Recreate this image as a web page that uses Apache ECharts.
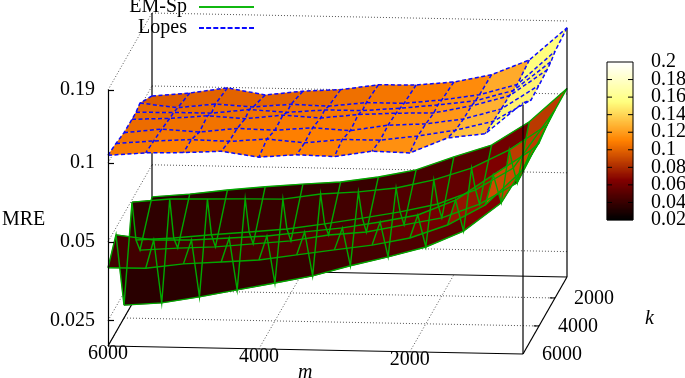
<!DOCTYPE html>
<html><head><meta charset="utf-8">
<style>html,body{margin:0;padding:0;background:#fff}#c{width:685px;height:378px}</style>
<script src="https://cdn.jsdelivr.net/npm/echarts@6/dist/echarts.min.js"></script>
</head><body><div id="c"></div>
<script>
// ---- data ----
const mValues = [6000,5500,5000,4500,4000,3500,3000,2500,2000,1500,1000,500];
const kValues = [500,2000,2500,3000,4000,5000,6000];

const lopesK500  = [.0916,.0946,.0996,.0942,.098,.100,.105,.1055,.109,.117,.134,.179];
const lopesK2000 = [.1035,.100,.104,.102,.105,.104,.108,.108,.112,.118,.130,.175];
const lopesK2500 = [.1015,.102,.102,.106,.104,.107,.107,.110,.114,.119,.131,.170];
const lopesK3000 = [.1015,.103,.106,.104,.108,.106,.110,.112,.113,.121,.133,.168];
const lopesK4000 = [.102,.106,.104,.108,.107,.110,.108,.114,.116,.122,.134,.166];
const lopesK5000 = [.105,.108,.110,.109,.112,.109,.113,.113,.118,.125,.136,.165];
const lopesK6000 = [.107,.110,.111,.113,.108,.111,.110,.116,.115,.132,.138,.182];

const emK500  = [.0377,.0389,.0406,.042,.0433,.0444,.0467,.05,.0564,.063,.0778,.105];
const emK2000 = [.0284,.0291,.0296,.0306,.0316,.0335,.0346,.0371,.0397,.0451,.0547,.1046];
const emK2500 = [.033,.0338,.035,.0361,.0373,.0393,.0416,.0442,.0477,.0543,.0663,.106];
const emK3000 = [.049,.0507,.051,.0514,.0516,.0543,.0557,.058,.0627,.07,.0827,.1036];
const emK4000 = [.0224,.023,.0244,.0261,.0279,.0299,.0329,.0358,.0393,.0455,.0587,.10];
const emK5000 = [.047,.0452,.0455,.0466,.0477,.0498,.0519,.055,.0589,.0676,.0849,.106];
const emK6000 = [.0398,.0399,.0417,.0427,.0437,.046,.0484,.0508,.0544,.0614,.0737,.101];

const zTicks = [0.19,0.1,0.05,0.025];
const mTicks = [6000,4000,2000];
const kTicks = [2000,4000,6000];
const colorbarLabelsA = [0.02,0.06,0.1,0.14,0.18];
const colorbarLabelsB = [0.04,0.08,0.12,0.16,0.2];
const colorbarTicks = [0.04,0.06,0.08,0.1,0.12,0.14,0.16,0.18];

// ---- layout ----
const FONT = 'Liberation Serif';
const M_MIN = 500, M_MAX = 6000, K_MIN = 500, K_MAX = 6000, Z_MIN = 0.02, Z_MAX = 0.19;
const DEPTH_X = 44, DEPTH_Y = 77, TILT_Y = 8;
const GREEN = '#00a800', BLUE = '#0a0aff';
const BAR_MIN = 0.02, BAR_MAX = 0.2, BAR_STRIPS = 158;

const lopesRows = [lopesK500,lopesK2000,lopesK2500,lopesK3000,lopesK4000,lopesK5000,lopesK6000];
const emRows = [emK500,emK2000,emK2500,emK3000,emK4000,emK5000,emK6000];

function project(api, m, k, z) {
  const p = api.coord([m, z]);
  const f = (K_MAX - k) / (K_MAX - K_MIN);
  const t = (M_MAX - m) / (M_MAX - M_MIN);
  return [p[0] + f * DEPTH_X, p[1] - f * DEPTH_Y + t * TILT_Y];
}

function buildQuads(rows) {
  const out = [];
  for (let r = 0; r < kValues.length - 1; r++) {
    for (let c = mValues.length - 2; c >= 0; c--) {
      const a = rows[r][c], b = rows[r][c+1], d = rows[r+1][c], e = rows[r+1][c+1];
      out.push([mValues[c], mValues[c+1], kValues[r], kValues[r+1], a, b, d, e, (a+b+d+e)/4]);
    }
  }
  return out;
}
function buildMesh(rows) {
  const out = [];
  rows.forEach((row, r) => out.push(row.map((z, c) => [mValues[c], kValues[r], z])));
  mValues.forEach((m, c) => out.push(rows.map((row, r) => [m, kValues[r], row[c]])));
  return out;
}
function fillSeries(name, rows) {
  return {
    type: 'custom', name, coordinateSystem: 'cartesian2d', xAxisIndex: 0, yAxisIndex: 0,
    silent: true, clip: false, animation: false,
    data: buildQuads(rows), encode: {x: 0, y: 8},
    renderItem(params, api) {
      const [m0,m1,k0,k1,a,b,d,e] = [0,1,2,3,4,5,6,7].map(i => api.value(i));
      const pts = [project(api,m0,k0,a),project(api,m1,k0,b),project(api,m1,k1,e),project(api,m0,k1,d)];
      const col = api.visual('color');
      return {type:'polygon', shape:{points:pts}, style:{fill:col, stroke:col, lineWidth:0.4}};
    }
  };
}
function meshSeries(name, rows, style) {
  const lines = buildMesh(rows);
  return {
    type: 'custom', name, coordinateSystem: 'cartesian2d', xAxisIndex: 0, yAxisIndex: 0,
    silent: true, clip: false, animation: false,
    itemStyle: {color: style.stroke},
    data: lines.map((_, i) => [M_MAX, Z_MAX, i]), encode: {x: 0, y: 1},
    renderItem(params, api) {
      const line = lines[api.value(2)];
      return {type:'polyline', shape:{points: line.map(p => project(api,p[0],p[1],p[2]))},
              style: Object.assign({fill:'none'}, style)};
    }
  };
}
function frameSeries(name, segs, labels) {
  const items = segs.concat(labels || []);
  return {
    type: 'custom', name, coordinateSystem: 'cartesian2d', xAxisIndex: 0, yAxisIndex: 0,
    silent: true, clip: false, animation: false,
    data: items.map((_, i) => [M_MAX, Z_MAX, i]), encode: {x: 0, y: 1},
    renderItem(params, api) {
      const it = items[api.value(2)];
      if (it.text) {
        const p = project(api, it.at[0], it.at[1], it.at[2]);
        return {type:'text', x:p[0]+it.dx, y:p[1]+it.dy,
          style:{text:it.text, fill:'#000', font:'20px "'+FONT+'"', align:it.align, verticalAlign:'middle'}};
      }
      const p0 = project(api, it[0], it[1], it[2]), p1 = project(api, it[3], it[4], it[5]);
      return {type:'line', shape:{x1:p0[0],y1:p0[1],x2:p1[0],y2:p1[1]},
        style: it[6] === 'dot' ? {stroke:'#555', lineWidth:1, lineDash:[1,2]} : {stroke:'#000', lineWidth:1.2}};
    }
  };
}
// colour ramp of the colour bar: one strip per pixel row, coloured by the visualMap
function colorbarStripSeries() {
  const strips = [];
  const step = (BAR_MAX - BAR_MIN) / BAR_STRIPS;
  for (let i = 0; i < BAR_STRIPS; i++) {
    const lo = BAR_MIN + i * step, hi = lo + step;
    strips.push([0, lo, hi, 0, 0, 0, 0, 0, (lo + hi) / 2]);
  }
  return {
    type:'custom', name:'colorbar', coordinateSystem:'cartesian2d', xAxisIndex:1, yAxisIndex:1,
    silent:true, clip:false, animation:false,
    data: strips, encode:{x:0, y:1},
    renderItem(params, api) {
      const a = api.coord([0, api.value(1)]), b = api.coord([1, api.value(2)]);
      const col = api.visual('color');
      return {type:'rect', shape:{x:a[0], y:b[1], width:b[0]-a[0], height:a[1]-b[1]},
              style:{fill:col, stroke:col, lineWidth:0.5}};
    }
  };
}
function colorbarTickSeries() {
  return {
    type:'custom', name:'colorbarTicks', coordinateSystem:'cartesian2d', xAxisIndex:1, yAxisIndex:1,
    silent:true, clip:false, animation:false, z:8,
    data: colorbarTicks.map(v => [0, v]), encode:{x:0, y:1},
    renderItem(params, api) {
      const v = api.value(1);
      const a = api.coord([0, v]), b = api.coord([1, v]);
      return {type:'group', children:[
        {type:'line', shape:{x1:a[0], y1:a[1], x2:a[0]+5, y2:a[1]}, style:{stroke:'#000', lineWidth:1}},
        {type:'line', shape:{x1:b[0]-5, y1:b[1], x2:b[0], y2:b[1]}, style:{stroke:'#000', lineWidth:1}}
      ]};
    }
  };
}

// frame parts, all built from the tick lists and axis ranges
const backSegs = [];
[...zTicks.slice(1)].forEach(z => {
  backSegs.push([M_MAX,K_MAX,z,M_MAX,K_MIN,z,'dot']);
  backSegs.push([M_MAX,K_MIN,z,M_MIN,K_MIN,z,'dot']);
});
backSegs.push([M_MAX,K_MAX,Z_MAX,M_MAX,K_MIN,Z_MAX,'dot']);
backSegs.push([M_MAX,K_MIN,Z_MAX,M_MIN,K_MIN,Z_MAX,'dot']);
mTicks.forEach(m => backSegs.push([m,K_MAX,Z_MIN,m,K_MIN,Z_MIN,'dot']));
kTicks.slice(0,2).forEach(k => backSegs.push([M_MAX,k,Z_MIN,M_MIN,k,Z_MIN,'dot']));
backSegs.push([M_MAX,K_MAX,Z_MIN,M_MAX,K_MIN,Z_MIN,'solid']);
backSegs.push([M_MAX,K_MIN,Z_MIN,M_MIN,K_MIN,Z_MIN,'solid']);
backSegs.push([M_MAX,K_MIN,Z_MIN,M_MAX,K_MIN,Z_MAX,'solid']);

const frontSegs = [
  [M_MAX,K_MAX,Z_MIN,M_MIN,K_MAX,Z_MIN,'solid'],
  [M_MIN,K_MAX,Z_MIN,M_MIN,K_MIN,Z_MIN,'solid'],
  [M_MIN,K_MAX,Z_MIN,M_MIN,K_MAX,lopesK6000[11],'solid'],
  [M_MIN,K_MIN,Z_MIN,M_MIN,K_MIN,lopesK500[11],'solid']
];
kTicks.slice(0,2).forEach(k => frontSegs.push([M_MIN+70,k,Z_MIN,M_MIN,k,Z_MIN,'solid']));
const frameLabels = [];
mTicks.forEach(m => frameLabels.push({text:String(m), at:[m,K_MAX,Z_MIN], dx:0, dy:8, align:'center'}));
kTicks.forEach(k => frameLabels.push({text:String(k), at:[M_MIN,k,Z_MIN], dx:19, dy:1, align:'left'}));

const chart = echarts.init(document.getElementById('c'), null, {renderer:'canvas'});
const series = [
  frameSeries('frameBack', backSegs),
  fillSeries('emFill', emRows),
  meshSeries('EM-Sp', emRows, {stroke:GREEN, lineWidth:1.4}),
  frameSeries('frameFront', frontSegs, frameLabels),
  fillSeries('lopesFill', lopesRows),
  meshSeries('Lopes', lopesRows, {stroke:BLUE, lineWidth:1.5, lineDash:[4,2.5]}),
  colorbarStripSeries(),
  colorbarTickSeries()
];
const dash = [];
for (let i = 0; i < 8; i++) dash.push('M'+(i*7.2)+' 0h5v2h-5z');

function colorbarAxis(gridIndex, position, labels) {
  return {
    type:'value', gridIndex, min:BAR_MIN, max:BAR_MAX, interval:0.02, position, z:7,
    axisLine:{show:false}, splitLine:{show:false}, axisTick:{show:false},
    axisLabel: {show:true, margin:18, color:'#000', fontFamily:FONT, fontSize:20, customValues:labels, formatter:v=>String(+(+v).toFixed(2))}
  };
}

chart.setOption({
  animation: false,
  backgroundColor: '#fff',
  textStyle: {fontFamily: FONT},
  grid: [
    {left:108, top:90, width:415, height:256, show:false, outerBoundsMode:'none'},
    {left:607, top:62, width:26, height:158, show:true, borderColor:'#000', borderWidth:1, backgroundColor:'transparent', z:6, outerBoundsMode:'none'},
    {left:607, top:62, width:26, height:158, show:false, outerBoundsMode:'none'}
  ],
  xAxis: [
    {type:'value', gridIndex:0, inverse:true, min:M_MIN, max:M_MAX, show:false},
    {type:'value', gridIndex:1, min:0, max:1, show:false},
    {type:'value', gridIndex:2, min:0, max:1, show:false}
  ],
  yAxis: [
    {type:'log', gridIndex:0, min:Z_MIN, max:Z_MAX, position:'left', z:7,
     axisLine:{show:true, onZero:false, lineStyle:{color:'#000', width:1.2}},
     axisTick:{show:true, inside:true, length:6, customValues:zTicks, lineStyle:{color:'#000', width:1.2}},
     minorTick:{show:false}, splitLine:{show:false},
     axisLabel:{show:true, margin:13, color:'#000', fontFamily:FONT, fontSize:20, customValues:zTicks, formatter:v=>String(v)}},
    colorbarAxis(1, 'right', colorbarLabelsA),
    colorbarAxis(2, 'right', colorbarLabelsB)
  ],
  visualMap: {
    type:'continuous', show:false, seriesIndex:[1,4,6], dimension:8, min:BAR_MIN, max:BAR_MAX,
    inRange:{color:['#000000','#800000','#ff8000','#ffff80','#ffffff']}
  },
  legend: {
    orient:'vertical', right:431, top:-3.5, align:'right', itemWidth:55, itemHeight:2, itemGap:0,
    padding:0, selectedMode:false,
    textStyle:{fontFamily:FONT, fontSize:20, color:'#000', padding:[0,7,0,0], lineHeight:21},
    data:[
      {name:'EM-Sp', icon:'path://M0 0h55v2H0z', itemStyle:{color:'#10b810'}},
      {name:'Lopes', icon:'path://'+dash.join(' '), itemStyle:{color:BLUE}}
    ]
  },
  graphic: [
    {type:'text', left:2, top:210, style:{text:'MRE', font:'20px "'+FONT+'"', fill:'#000'}},
    {type:'text', left:298, top:363, style:{text:'m', font:'italic 20px "'+FONT+'"', fill:'#000'}},
    {type:'text', left:645, top:309, style:{text:'k', font:'italic 20px "'+FONT+'"', fill:'#000'}}
  ],
  series
});
</script></body></html>
